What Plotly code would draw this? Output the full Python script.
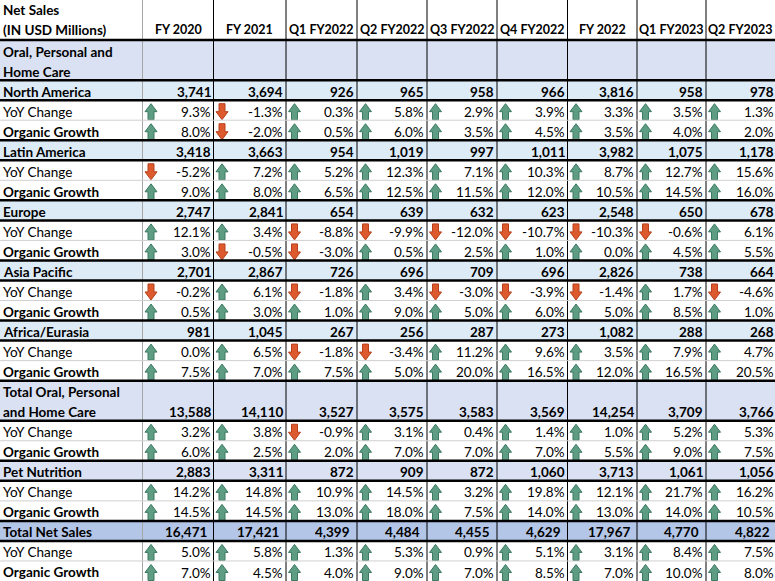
import plotly.graph_objects as go

# ---------------- data ----------------
columns = ["FY 2020", "FY 2021", "Q1 FY2022", "Q2 FY2022", "Q3 FY2022",
           "Q4 FY2022", "FY 2022", "Q1 FY2023", "Q2 FY2023"]

na_sales = [3741, 3694, 926, 965, 958, 966, 3816, 958, 978]
na_yoy = [9.3, -1.3, 0.3, 5.8, 2.9, 3.9, 3.3, 3.5, 1.3]
na_org = [8.0, -2.0, 0.5, 6.0, 3.5, 4.5, 3.5, 4.0, 2.0]

la_sales = [3418, 3663, 954, 1019, 997, 1011, 3982, 1075, 1178]
la_yoy = [-5.2, 7.2, 5.2, 12.3, 7.1, 10.3, 8.7, 12.7, 15.6]
la_org = [9.0, 8.0, 6.5, 12.5, 11.5, 12.0, 10.5, 14.5, 16.0]

eu_sales = [2747, 2841, 654, 639, 632, 623, 2548, 650, 678]
eu_yoy = [12.1, 3.4, -8.8, -9.9, -12.0, -10.7, -10.3, -0.6, 6.1]
eu_org = [3.0, -0.5, -3.0, 0.5, 2.5, 1.0, 0.0, 4.5, 5.5]

ap_sales = [2701, 2867, 726, 696, 709, 696, 2826, 738, 664]
ap_yoy = [-0.2, 6.1, -1.8, 3.4, -3.0, -3.9, -1.4, 1.7, -4.6]
ap_org = [0.5, 3.0, 1.0, 9.0, 5.0, 6.0, 5.0, 8.5, 1.0]

af_sales = [981, 1045, 267, 256, 287, 273, 1082, 288, 268]
af_yoy = [0.0, 6.5, -1.8, -3.4, 11.2, 9.6, 3.5, 7.9, 4.7]
af_org = [7.5, 7.0, 7.5, 5.0, 20.0, 16.5, 12.0, 16.5, 20.5]

ophc_sales = [13588, 14110, 3527, 3575, 3583, 3569, 14254, 3709, 3766]
ophc_yoy = [3.2, 3.8, -0.9, 3.1, 0.4, 1.4, 1.0, 5.2, 5.3]
ophc_org = [6.0, 2.5, 2.0, 7.0, 7.0, 7.0, 5.5, 9.0, 7.5]

pet_sales = [2883, 3311, 872, 909, 872, 1060, 3713, 1061, 1056]
pet_yoy = [14.2, 14.8, 10.9, 14.5, 3.2, 19.8, 12.1, 21.7, 16.2]
pet_org = [14.5, 14.5, 13.0, 18.0, 7.5, 14.0, 13.0, 14.0, 10.5]

total_sales = [16471, 17421, 4399, 4484, 4455, 4629, 17967, 4770, 4822]
total_yoy = [5.0, 5.8, 1.3, 5.3, 0.9, 5.1, 3.1, 8.4, 7.5]
total_org = [7.0, 4.5, 4.0, 9.0, 7.0, 8.5, 7.0, 10.0, 8.0]

# (label, kind, values)
rows = [
    ("Oral, Personal and|Home Care", "section", None),
    ("North America", "region", na_sales), ("YoY Change", "yoy", na_yoy), ("Organic Growth", "org", na_org),
    ("Latin America", "region", la_sales), ("YoY Change", "yoy", la_yoy), ("Organic Growth", "org", la_org),
    ("Europe", "region", eu_sales), ("YoY Change", "yoy", eu_yoy), ("Organic Growth", "org", eu_org),
    ("Asia Pacific", "region", ap_sales), ("YoY Change", "yoy", ap_yoy), ("Organic Growth", "org", ap_org),
    ("Africa/Eurasia", "region", af_sales), ("YoY Change", "yoy", af_yoy), ("Organic Growth", "org", af_org),
    ("Total Oral, Personal|and Home Care", "subtotal", ophc_sales), ("YoY Change", "yoy", ophc_yoy), ("Organic Growth", "org", ophc_org),
    ("Pet Nutrition", "segment", pet_sales), ("YoY Change", "yoy", pet_yoy), ("Organic Growth", "org", pet_org),
    ("Total Net Sales", "grand", total_sales), ("YoY Change", "yoy", total_yoy), ("Organic Growth", "org", total_org),
]

# ---------------- layout constants ----------------
W, H = 775, 581
UNIT = H / 29.0
col_edges = [0, 142.5, 213.5, 286, 357, 427, 497, 567.5, 637, 706, 777]
FONT = "Lato, Calibri, Carlito, sans-serif"
FS = 13.5
LAVENDER = "#D9E1F2"
LIGHTBLUE = "#DDEBF7"
DARKBLUE = "#B4C6E7"
UP_FILL, UP_LINE = "#5E9C84", "#3C7A62"
DN_FILL, DN_LINE = "#DC5A2E", "#B8401C"

fig = go.Figure()
shapes = []
ann = []


def text(x, y, s, anchor="right", bold=False, size=FS):
    ann.append(dict(x=min(x, W - 0.01), y=y, xref="x", yref="y",
                    text=("<b>%s</b>" % s) if bold else s,
                    showarrow=False, xanchor=anchor, yanchor="middle", borderpad=0,
                    font=dict(family=FONT, size=size, color="black")))


# header
text(1.5, 10, "Net Sales", "left", True)
text(1.5, 29.5, "(IN USD Millions)", "left", True)
for i, c in enumerate(columns):
    cx = (col_edges[i + 1] + min(col_edges[i + 2], W)) / 2
    text(cx, 29.5, c, "center", True, 12.5)

thick_y = [2 * UNIT]
thin_y = []
up_x, up_y, dn_x, dn_y = [], [], [], []

u = 2
for label, kind, vals in rows:
    span = 2 if kind in ("section", "subtotal") else 1
    top = u * UNIT
    bot = (u + span) * UNIT
    fill = {"section": LAVENDER, "subtotal": LAVENDER, "segment": LAVENDER,
            "region": LIGHTBLUE, "grand": DARKBLUE}.get(kind)
    if fill:
        shapes.append(dict(type="rect", xref="x", yref="y", x0=0, x1=W + 5, y0=top, y1=bot,
                           fillcolor=fill, line=dict(width=0), layer="below"))
        thick_y += [top, bot]
    if kind == "org":
        thin_y.append(top)
    # label
    lines = label.split("|")
    bold = kind != "yoy"
    if len(lines) == 2:
        text(1.5, top + 11.5, lines[0], "left", bold)
        text(1.5, top + 31.5, lines[1], "left", bold)
    else:
        text(1.5, top + 11.5, label, "left", bold)
    # values
    if vals is not None:
        vy = bot - 8.5
        for i, v in enumerate(vals):
            right = col_edges[i + 2]
            if kind in ("yoy", "org"):
                text(right - 2, vy, "%.1f%%" % v, "right", False)
                x0 = col_edges[i + 1] + 2.5
                if v >= 0:
                    xs = [x0 + 6, x0 + 12, x0 + 9, x0 + 9, x0 + 3, x0 + 3, x0, x0 + 6, None]
                    ys = [top + 3.5, top + 11.5, top + 11.5, bot - 0.5, bot - 0.5, top + 11.5, top + 11.5, top + 3.5, None]
                    up_x += xs
                    up_y += ys
                else:
                    xs = [x0 + 3, x0 + 9, x0 + 9, x0 + 12, x0 + 6, x0, x0 + 3, x0 + 3, None]
                    ys = [top + 3.5, top + 3.5, top + 11.5, top + 11.5, bot - 0.5, top + 11.5, top + 11.5, top + 3.5, None]
                    dn_x += xs
                    dn_y += ys
            else:
                off = 6 if kind == "grand" else 2
                text(right - off, vy, "{:,}".format(v), "right", True)
    u += span

# grid lines
for i, xe in enumerate(col_edges[1:-1]):
    shapes.append(dict(type="line", xref="x", yref="y", x0=xe, x1=xe, y0=0, y1=H,
                       line=dict(color="#A6A6A6" if i == 0 else "black", width=1)))
for yv in thin_y:
    shapes.append(dict(type="line", xref="x", yref="y", x0=0, x1=W + 5, y0=yv, y1=yv,
                       line=dict(color="#D0D0D0", width=1)))
for yv in sorted(set(round(t, 2) for t in thick_y)):
    shapes.append(dict(type="line", xref="x", yref="y", x0=0, x1=W + 5, y0=yv, y1=yv,
                       line=dict(color="black", width=2.5)))

fig.add_trace(go.Scatter(x=up_x, y=up_y, mode="lines", fill="toself", fillcolor=UP_FILL,
                         line=dict(color=UP_LINE, width=1), hoverinfo="skip"))
fig.add_trace(go.Scatter(x=dn_x, y=dn_y, mode="lines", fill="toself", fillcolor=DN_FILL,
                         line=dict(color=DN_LINE, width=1), hoverinfo="skip"))

fig.update_layout(width=W, height=H, margin=dict(l=0, r=0, t=0, b=0),
                  paper_bgcolor="white", plot_bgcolor="white", showlegend=False,
                  shapes=shapes, annotations=ann)
fig.update_xaxes(range=[0, W], visible=False, fixedrange=True)
fig.update_yaxes(range=[H, 0], visible=False, fixedrange=True)

fig.write_html("out.html", config={"displayModeBar": False, "staticPlot": True},
               post_script="document.body.style.margin='0';document.body.style.overflow='hidden';")
